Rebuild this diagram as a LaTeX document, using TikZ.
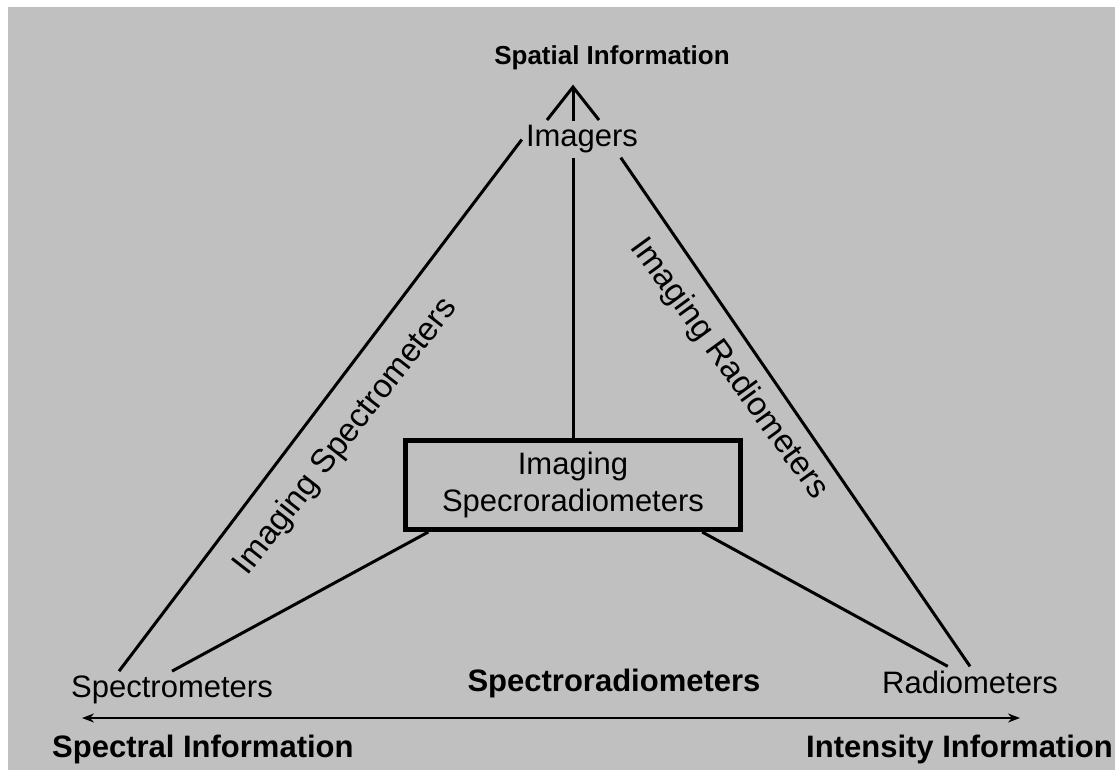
\documentclass[tikz,border=0pt]{standalone}
\usepackage{fontspec}
\setmainfont{Liberation Sans}
\usetikzlibrary{positioning,arrows.meta}
\definecolor{bggray}{RGB}{192,192,192}

\begin{document}
\begin{tikzpicture}[
x=1pt, y=-1pt,
txt/.style={inner sep=4pt, font=\fontsize{31}{36}\selectfont},
bold/.style={inner sep=4pt, font=\fontsize{31}{36}\selectfont\bfseries},
side/.style={inner sep=0pt, font=\fontsize{33}{38}\selectfont},
edge/.style={line width=3pt},
box/.style={draw, line width=5pt, minimum width=335pt, minimum height=89pt,
  align=center, inner sep=0pt, font=\fontsize{31}{37}\selectfont}]

\useasboundingbox (0,0) rectangle (1115,770);
\fill[bggray] (8,7) rectangle (1115,770);

\node[bold, anchor=base, font=\fontsize{26}{30}\selectfont\bfseries] (spatial) at (612,65) {Spatial Information};
\node[txt, anchor=base] (imagers) at (582,147) {Imagers};
\node[box] (box) at (573,485) {Imaging\\Specroradiometers};
\node[txt, anchor=base] (spectro) at (172,697) {Spectrometers};
\node[txt, anchor=base] (radio) at (970,693) {Radiometers};
\node[bold, anchor=base] (spectrorad) at (614,691) {Spectroradiometers};
\node[bold, anchor=base west] (spectral) at (48,757) {Spectral Information};
\node[bold, anchor=base east] (intensity) at (1117,757) {Intensity Information};

\node[side, rotate=52] (imgspec) at (346,437) {Imaging Spectrometers};
\node[side, rotate=-54] (imgrad) at (729,369) {Imaging Radiometers};

% triangle
\draw[edge] (imagers.west) -- (spectro.161);
\draw[edge] (imagers.335) -- (radio.north);
\draw[edge] (box.north) -- (box.north |- imagers.south);
\draw[edge, -{Straight Barb[length=33pt,width=52pt]}, shorten >=10pt]
  (box.north |- imagers.north) -- (box.north |- spatial.south);
\draw[edge] (box.198) -- (spectro.north);
\draw[edge] (box.340) -- (radio.145);

% axis
\coordinate (lefttip) at (82,718);
\coordinate (righttip) at (1020,718);
\draw[line width=2pt, {Stealth[length=12pt,width=9pt]}-{Stealth[length=12pt,width=9pt]}] (lefttip) -- (righttip);
\end{tikzpicture}
\end{document}
